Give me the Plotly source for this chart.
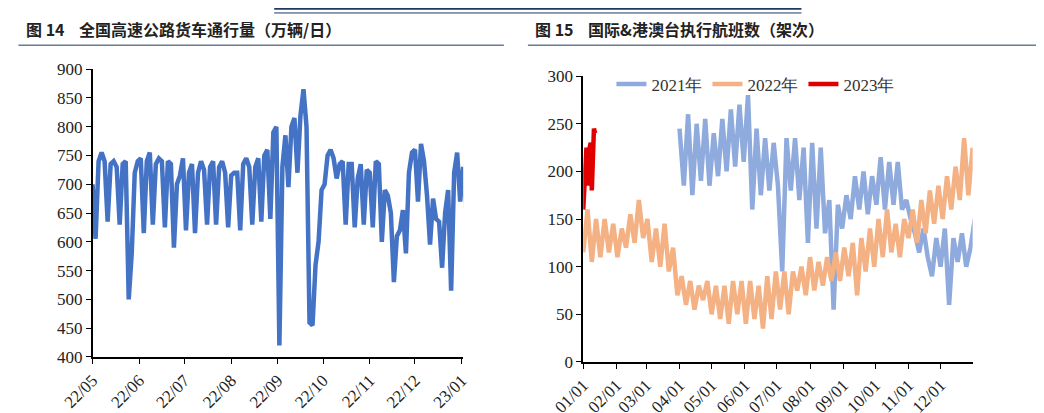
import pandas as pd
import plotly.graph_objects as go

# 图14: truck traffic, every 2 days from 2022-05-01
truck = [700, 605, 740, 755, 740, 635, 735, 740, 730, 630, 735, 740, 500, 580, 720, 740,
         745, 615, 740, 755, 630, 735, 745, 740, 625, 740, 735, 590, 700, 715, 745,
         620, 720, 735, 615, 720, 740, 725, 630, 730, 740, 630, 730, 740, 720, 625, 715,
         720, 720, 620, 735, 745, 730, 630, 730, 745, 635, 750, 760, 640, 790, 800, 420,
         730, 785, 695, 800, 815, 720, 820, 865, 800, 460, 455, 560, 600, 690, 700,
         750, 760, 745, 710, 735, 740, 630, 735, 735, 625, 710, 735, 630, 725, 720, 625,
         740, 735, 600, 690, 680, 650, 530, 610, 620, 655, 580, 720, 755, 760, 670,
         770, 740, 680, 595, 675, 640, 635, 555, 650, 690, 515, 720, 755, 670, 730, 655]
truck_dates = pd.date_range("2022-05-01", periods=len(truck), freq="2D")

# 图15: flights, plotted on a common calendar year
f2022 = [115, 160, 105, 150, 110, 150, 115, 145,
         110, 140, 120, 155, 125, 170, 130,
         150, 105, 140, 100, 145, 95, 120, 70,
         90, 60, 85, 55, 80, 65, 85, 50,
         80, 45, 80, 40, 85, 50, 85, 40,
         85, 45, 80, 35, 90, 45, 95, 55,
         95, 50, 95, 75, 100, 70, 110,
         75, 105, 80, 110, 85, 115, 85, 120,
         90, 125, 70, 130, 95, 140, 100,
         150, 110, 160, 115, 145, 110, 150, 130,
         160, 125, 170, 135, 180, 145, 185,
         150, 195, 160, 205, 170, 235, 175, 225]
f2021 = [245, 185, 260, 175, 250, 190, 255, 185,
         240, 195, 255, 200, 265, 205, 270, 210,
         280, 160, 245, 175, 235, 180, 230,
         185, 95, 235, 180, 235, 170, 225, 125,
         230, 140, 225, 135, 170, 55, 165, 140,
         175, 150, 195, 160, 200, 155, 195,
         165, 215, 160, 210, 165, 210, 160, 170,
         150, 135, 115, 140, 110, 90, 130, 100,
         140, 60, 130, 105, 135, 100, 120, 150]
f2023 = [160, 190, 200, 225, 215, 185, 225, 230, 180, 235, 245, 240]
d2022 = pd.date_range("2021-01-01", periods=len(f2022), freq="4D")
d2021 = pd.date_range("2021-04-01", periods=len(f2021), freq="4D")
d2023 = pd.date_range("2021-01-01", periods=len(f2023), freq="D")

tick_font = dict(family="Liberation Serif", size=17, color="#222")

fig = go.Figure()
fig.add_trace(go.Scatter(x=truck_dates, y=truck, mode="lines", line=dict(color="#4472C4", width=4.5),
                         showlegend=False, xaxis="x", yaxis="y"))
fig.add_trace(go.Scatter(x=d2021, y=f2021, mode="lines", name="2021年", line=dict(color="#8FAADC", width=4.5),
                         xaxis="x2", yaxis="y2"))
fig.add_trace(go.Scatter(x=d2022, y=f2022, mode="lines", name="2022年", line=dict(color="#F4B183", width=4.5),
                         xaxis="x2", yaxis="y2"))
fig.add_trace(go.Scatter(x=d2023, y=f2023, mode="lines", name="2023年", line=dict(color="#E00000", width=4.5),
                         xaxis="x2", yaxis="y2"))

ax = dict(showline=True, linecolor="black", linewidth=1.5, ticks="outside", ticklen=5,
          tickcolor="black", showgrid=False, zeroline=False, tickfont=tick_font, automargin=False)
fig.update_layout(
    width=1044, height=413, margin=dict(l=0, r=0, t=0, b=0),
    paper_bgcolor="white", plot_bgcolor="white",
    xaxis=dict(ax, domain=[0.081, 0.436], anchor="y", range=["2022-05-01", "2023-01-02"],
               dtick="M1", tickformat="%y/%m", tickangle=-45),
    yaxis=dict(ax, domain=[0.155, 0.852], anchor="x", range=[400, 900], dtick=50),
    xaxis2=dict(ax, domain=[0.551, 0.924], anchor="y2", range=["2021-01-01", "2021-12-31"],
                dtick="M1", tickformat="%m/%d", tickangle=-45),
    yaxis2=dict(ax, domain=[0.143, 0.835], anchor="x2", range=[0, 300], dtick=50),
    legend=dict(orientation="h", x=0.578, y=0.815, xanchor="left", yanchor="middle",
                font=dict(family="Liberation Serif", size=17, color="#333"), bgcolor="rgba(0,0,0,0)"),
    annotations=[
        dict(text="<b>图 14    全国高速公路货车通行量（万辆/日）</b>", x=0.015, y=0.95, xref="paper", yref="paper",
             xanchor="left", yanchor="middle", showarrow=False, font=dict(family="Noto Sans CJK SC", size=16, color="#222")),
        dict(text="<b>图 15    国际&港澳台执行航班数（架次）</b>", x=0.503, y=0.95, xref="paper", yref="paper",
             xanchor="left", yanchor="middle", showarrow=False, font=dict(family="Noto Sans CJK SC", size=16, color="#222")),
    ],
    shapes=[
        dict(type="line", xref="paper", yref="paper", x0=0.01, x1=0.475, y0=0.91, y1=0.91,
             line=dict(color="#1F3864", width=1)),
        dict(type="line", xref="paper", yref="paper", x0=0.498, x1=0.99, y0=0.91, y1=0.91,
             line=dict(color="#1F3864", width=1)),
        dict(type="line", xref="paper", yref="paper", x0=0.255, x1=0.76, y0=0.998, y1=0.998,
             line=dict(color="#1F3864", width=2)),
        dict(type="line", xref="paper", yref="paper", x0=0.255, x1=0.76, y0=0.988, y1=0.988,
             line=dict(color="#1F3864", width=1)),
    ],
)

fig.write_html("out.html")
